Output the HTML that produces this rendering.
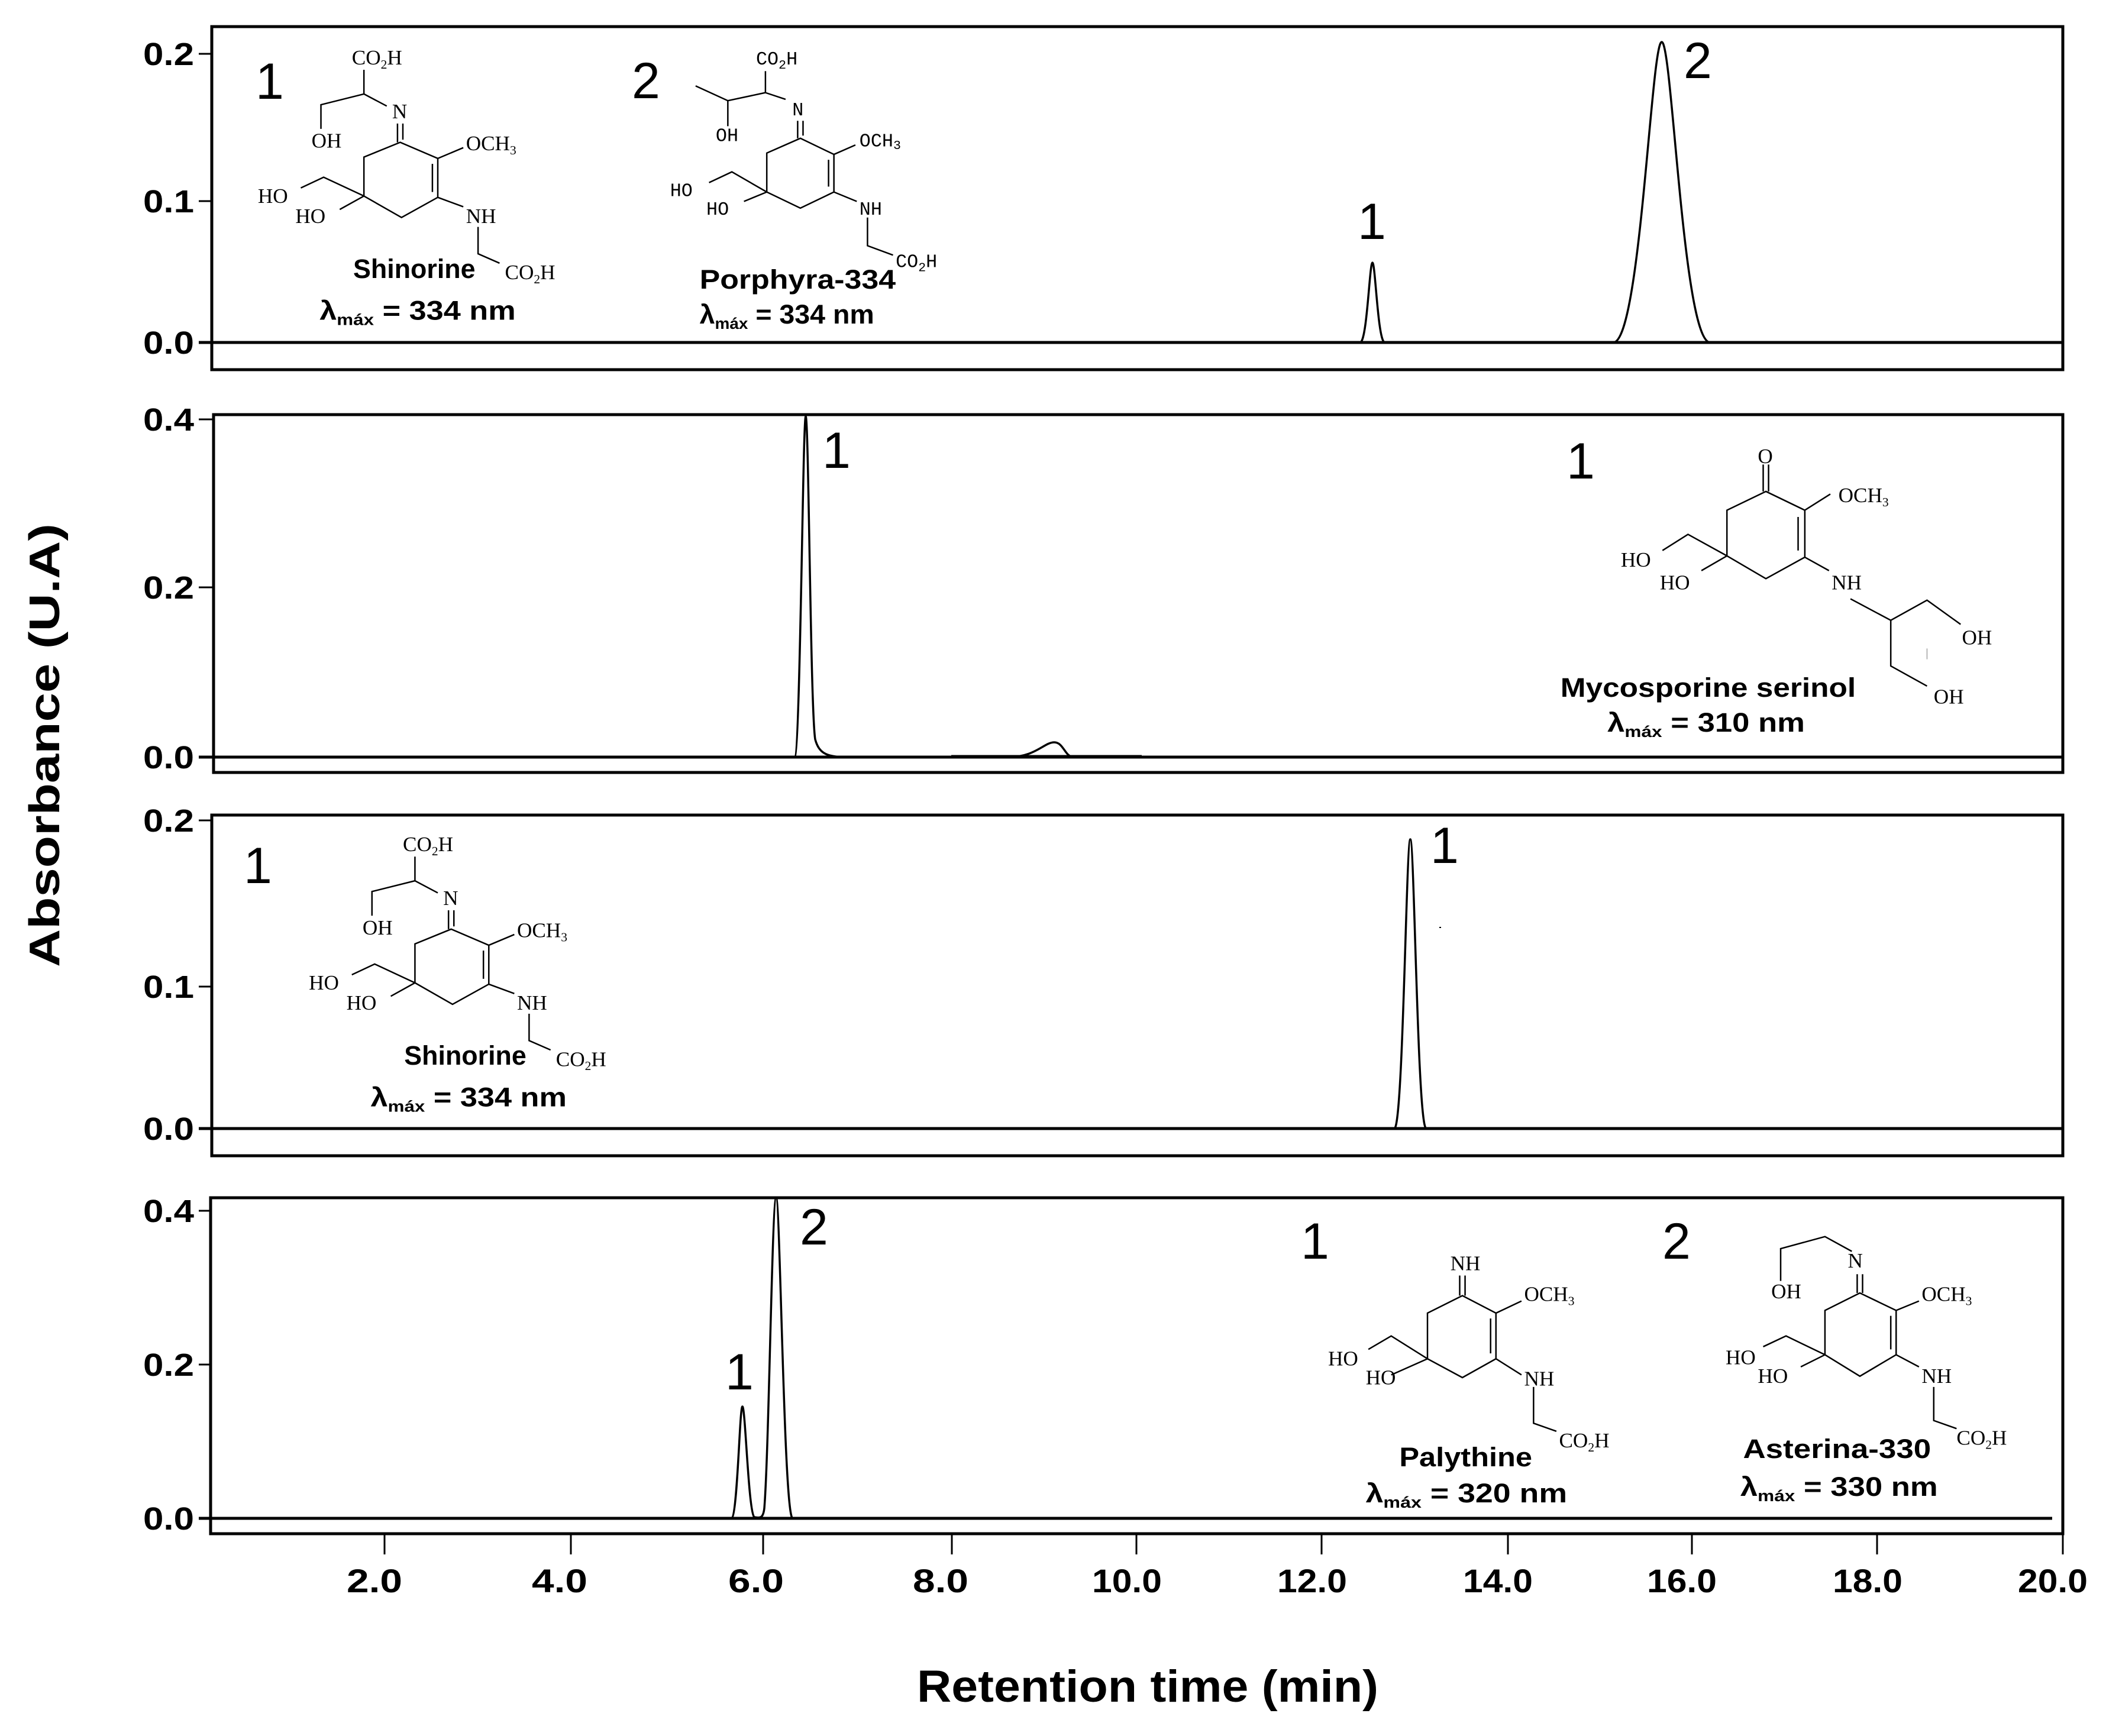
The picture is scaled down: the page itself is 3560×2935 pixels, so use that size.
<!DOCTYPE html>
<html><head><meta charset="utf-8"><style>
html,body{margin:0;padding:0;background:#fff;}
svg{display:block;}
.ax{font-family:"Liberation Sans",sans-serif;font-weight:bold;font-size:54px;}
.big{font-family:"Liberation Sans",sans-serif;font-size:86px;}
.at{font-family:"Liberation Serif",serif;font-size:15.5px;}
.mo{font-family:"Liberation Mono",monospace;font-size:14px;}
.nm{font-family:"Liberation Sans",sans-serif;font-weight:bold;font-size:20px;}
.sb{font-size:9.5px;}
</style></head><body>
<svg width="3560" height="2935" viewBox="0 0 3560 2935" xmlns="http://www.w3.org/2000/svg">
<rect width="3560" height="2935" fill="#fff"/>
<g fill="none" stroke="#000" stroke-width="5">
<rect x="358" y="45" width="3129" height="580"/>
<rect x="361" y="701" width="3126" height="605"/>
<rect x="358" y="1378" width="3129" height="576"/>
<rect x="356" y="2025" width="3131" height="568"/>
</g>
<g stroke="#000" stroke-width="5">
<line x1="336" y1="579" x2="3487" y2="579"/>
<line x1="336" y1="1280" x2="3487" y2="1280"/>
<line x1="336" y1="1908" x2="3487" y2="1908"/>
<line x1="336" y1="2567" x2="3469" y2="2567"/>
</g>
<g stroke="#000" stroke-width="3">
<line x1="336" y1="91" x2="358" y2="91"/><line x1="336" y1="340" x2="358" y2="340"/>
<line x1="336" y1="709" x2="361" y2="709"/><line x1="336" y1="993" x2="361" y2="993"/>
<line x1="336" y1="1387" x2="358" y2="1387"/><line x1="336" y1="1668" x2="358" y2="1668"/>
<line x1="336" y1="2047" x2="356" y2="2047"/><line x1="336" y1="2307" x2="356" y2="2307"/>
</g>
<g class="ax" text-anchor="end">
<text x="328" y="110" textLength="86" lengthAdjust="spacingAndGlyphs">0.2</text>
<text x="328" y="359" textLength="86" lengthAdjust="spacingAndGlyphs">0.1</text>
<text x="328" y="598" textLength="86" lengthAdjust="spacingAndGlyphs">0.0</text>
<text x="328" y="728" textLength="86" lengthAdjust="spacingAndGlyphs">0.4</text>
<text x="328" y="1012" textLength="86" lengthAdjust="spacingAndGlyphs">0.2</text>
<text x="328" y="1299" textLength="86" lengthAdjust="spacingAndGlyphs">0.0</text>
<text x="328" y="1406" textLength="86" lengthAdjust="spacingAndGlyphs">0.2</text>
<text x="328" y="1687" textLength="86" lengthAdjust="spacingAndGlyphs">0.1</text>
<text x="328" y="1927" textLength="86" lengthAdjust="spacingAndGlyphs">0.0</text>
<text x="328" y="2066" textLength="86" lengthAdjust="spacingAndGlyphs">0.4</text>
<text x="328" y="2326" textLength="86" lengthAdjust="spacingAndGlyphs">0.2</text>
<text x="328" y="2586" textLength="86" lengthAdjust="spacingAndGlyphs">0.0</text>
</g>
<g stroke="#000" stroke-width="3">
<line x1="650" y1="2593" x2="650" y2="2628"/><line x1="965" y1="2593" x2="965" y2="2628"/>
<line x1="1290" y1="2593" x2="1290" y2="2628"/><line x1="1609" y1="2593" x2="1609" y2="2628"/>
<line x1="1921" y1="2593" x2="1921" y2="2628"/><line x1="2234" y1="2593" x2="2234" y2="2628"/>
<line x1="2549" y1="2593" x2="2549" y2="2628"/><line x1="2860" y1="2593" x2="2860" y2="2628"/>
<line x1="3173" y1="2593" x2="3173" y2="2628"/><line x1="3487" y1="2593" x2="3487" y2="2628"/>
</g>
<g class="ax" text-anchor="middle" style="font-size:56px">
<text x="633" y="2692" textLength="94" lengthAdjust="spacingAndGlyphs">2.0</text>
<text x="946" y="2692" textLength="94" lengthAdjust="spacingAndGlyphs">4.0</text>
<text x="1278" y="2692" textLength="94" lengthAdjust="spacingAndGlyphs">6.0</text>
<text x="1590" y="2692" textLength="94" lengthAdjust="spacingAndGlyphs">8.0</text>
<text x="1905" y="2692" textLength="118" lengthAdjust="spacingAndGlyphs">10.0</text>
<text x="2218" y="2692" textLength="118" lengthAdjust="spacingAndGlyphs">12.0</text>
<text x="2532" y="2692" textLength="118" lengthAdjust="spacingAndGlyphs">14.0</text>
<text x="2843" y="2692" textLength="118" lengthAdjust="spacingAndGlyphs">16.0</text>
<text x="3157" y="2692" textLength="118" lengthAdjust="spacingAndGlyphs">18.0</text>
<text x="3470" y="2692" textLength="118" lengthAdjust="spacingAndGlyphs">20.0</text>
</g>
<text x="1940" y="2877" text-anchor="middle" font-family="Liberation Sans, sans-serif" font-weight="bold" font-size="76" textLength="780" lengthAdjust="spacingAndGlyphs">Retention time (min)</text>
<text transform="translate(100,1260) rotate(-90)" text-anchor="middle" font-family="Liberation Sans, sans-serif" font-weight="bold" font-size="72" textLength="750" lengthAdjust="spacingAndGlyphs">Absorbance (U.A)</text>

<g fill="none" stroke="#000" stroke-width="3.5">
<path d="M2299,579 C2311,579 2315,444 2320,444 C2325,444 2329,579 2341,579"/>
<path d="M2727,579 C2773,579 2791,71 2809,71 C2827,71 2845,579 2891,579"/>
<path d="M1343,1280 C1353,1280 1357,704 1362,704 C1367,704 1370,1200 1378,1250 C1385,1276 1400,1280 1435,1280"/>
<path d="M1705,1280 C1750,1280 1765,1255 1782,1255 C1798,1255 1800,1280 1815,1280"/>
<path d="M2357,1908 C2372,1908 2377,1419 2384,1419 C2391,1419 2396,1908 2411,1908"/>
<path d="M1236,2567 C1247,2567 1250,2378 1255,2378 C1260,2378 1265,2555 1275,2565 C1285,2567 1290,2567 1292,2550 C1300,2450 1305,2025 1312,2025 C1319,2025 1325,2567 1340,2567 L1365,2567"/>
</g>
<line x1="1608" y1="1278" x2="1930" y2="1278" stroke="#000" stroke-width="3"/>

<g class="big">
<text x="432" y="167">1</text>
<text x="1068" y="166">2</text>
<text x="2295" y="404">1</text>
<text x="2846" y="132">2</text>
<text x="1390" y="791">1</text>
<text x="2648" y="809">1</text>
<text x="412" y="1493">1</text>
<text x="2418" y="1459">1</text>
<text x="1352" y="2104">2</text>
<text x="1226" y="2349">1</text>
<text x="2199" y="2128">1</text>
<text x="2810" y="2128">2</text>
</g>
<line x1="2433" y1="1568" x2="2436" y2="1568" stroke="#000" stroke-width="2"/>

<g transform="scale(2.27)">
<g fill="none" stroke="#000" stroke-width="1.1">
<path d="M298,106 L271,117 L271,146 L299,162 L326,147 L326,118 Z M322,122 L322,143 M296,92 L296,106 M300,92 L300,104 M288,79 L271,70 L271,52 M271,70 L239,78 L239,96 M326,118 L345,110 M326,147 L345,154 M356,169 L356,189 L372,196 M271,146 L241,132 L224,140 M271,146 L253,156"/>
<path transform="translate(38,586)" d="M298,106 L271,117 L271,146 L299,162 L326,147 L326,118 Z M322,122 L322,143 M296,92 L296,106 M300,92 L300,104 M288,79 L271,70 L271,52 M271,70 L239,78 L239,96 M326,118 L345,110 M326,147 L345,154 M356,169 L356,189 L372,196 M271,146 L241,132 L224,140 M271,146 L253,156"/>
<path d="M596,103 L571,114 L571,143 L596,155 L621,143 L621,115 Z M617,119 L617,139 M594,90 L594,103 M598,90 L598,101 M585,74 L570,69 L570,53 M570,69 L542,75 L518,64 M542,75 L542,94 M621,115 L637,108 M571,143 L545,128 L528,136 M571,143 L554,150 M621,143 L638,150 M646,162 L646,183 L665,190"/>
<path d="M1315,366 L1286,380 L1286,414 L1315,431 L1344,415 L1344,380 Z M1339,385 L1339,410 M1313,346 L1313,366 M1317,346 L1317,366 M1344,380 L1363,368 M1286,414 L1257,398 L1238,410 M1286,414 L1267,425 M1344,415 L1362,425 M1378,446 L1408,462 L1435,447 L1460,465 M1408,462 L1408,496 L1435,511"/>
<path d="M1089,965 L1063,978 L1063,1012 L1089,1026 L1114,1012 L1114,978 Z M1110,982 L1110,1008 M1087,950 L1087,965 M1091,950 L1091,965 M1114,978 L1133,969 M1063,1012 L1036,995 L1019,1005 M1063,1012 L1036,1024 M1114,1012 L1133,1024 M1142,1033 L1142,1060 L1159,1066"/>
<path d="M1385,963 L1359,976 L1359,1009 L1385,1025 L1412,1009 L1412,976 Z M1408,980 L1408,1005 M1383,949 L1383,963 M1387,949 L1387,963 M1379,932 L1359,921 L1326,930 L1326,954 M1412,976 L1429,969 M1359,1009 L1330,995 L1313,1003 M1359,1009 L1341,1018 M1412,1009 L1429,1018 M1440,1033 L1440,1058 L1457,1064"/>
</g>
<line x1="1435" y1="483" x2="1435" y2="491" stroke="#999" stroke-width="0.6"/>

<g class="at">
<text x="262" y="48">CO<tspan class="sb" dy="3">2</tspan><tspan dy="-3">H</tspan></text>
<text x="292" y="88">N</text>
<text x="232" y="110">OH</text>
<text x="347" y="112">OCH<tspan class="sb" dy="3">3</tspan></text>
<text x="347" y="166">NH</text>
<text x="376" y="208">CO<tspan class="sb" dy="3">2</tspan><tspan dy="-3">H</tspan></text>
<text x="192" y="151">HO</text>
<text x="220" y="166">HO</text>
</g>
<text class="nm" x="263" y="207" textLength="91" lengthAdjust="spacingAndGlyphs">Shinorine</text>
<text class="nm" x="238" y="238" textLength="146" lengthAdjust="spacingAndGlyphs">λ<tspan dy="4" style="font-size:12px">máx</tspan><tspan dy="-4"> = 334 nm</tspan></text>

<g transform="translate(38,586)">
<g class="at">
<text x="262" y="48">CO<tspan class="sb" dy="3">2</tspan><tspan dy="-3">H</tspan></text>
<text x="292" y="88">N</text>
<text x="232" y="110">OH</text>
<text x="347" y="112">OCH<tspan class="sb" dy="3">3</tspan></text>
<text x="347" y="166">NH</text>
<text x="376" y="208">CO<tspan class="sb" dy="3">2</tspan><tspan dy="-3">H</tspan></text>
<text x="192" y="151">HO</text>
<text x="220" y="166">HO</text>
</g>
<text class="nm" x="263" y="207" textLength="91" lengthAdjust="spacingAndGlyphs">Shinorine</text>
<text class="nm" x="238" y="238" textLength="146" lengthAdjust="spacingAndGlyphs">λ<tspan dy="4" style="font-size:12px">máx</tspan><tspan dy="-4"> = 334 nm</tspan></text>
</g>

<g class="mo">
<text x="563" y="48">CO<tspan class="sb" dy="3">2</tspan><tspan dy="-3">H</tspan></text>
<text x="590" y="86">N</text>
<text x="533" y="105">OH</text>
<text x="640" y="109">OCH<tspan class="sb" dy="2">3</tspan></text>
<text x="499" y="146">HO</text>
<text x="526" y="160">HO</text>
<text x="640" y="160">NH</text>
<text x="667" y="199">CO<tspan class="sb" dy="3">2</tspan><tspan dy="-3">H</tspan></text>
</g>
<text class="nm" x="521" y="215" textLength="146" lengthAdjust="spacingAndGlyphs">Porphyra-334</text>
<text class="nm" x="521" y="241" textLength="130" lengthAdjust="spacingAndGlyphs">λ<tspan dy="4" style="font-size:12px">máx</tspan><tspan dy="-4"> = 334 nm</tspan></text>

<g class="at">
<text x="1309" y="345">O</text>
<text x="1369" y="374">OCH<tspan class="sb" dy="3">3</tspan></text>
<text x="1207" y="422">HO</text>
<text x="1236" y="439">HO</text>
<text x="1364" y="439">NH</text>
<text x="1461" y="480">OH</text>
<text x="1440" y="524">OH</text>
</g>
<text class="nm" x="1162" y="519" textLength="220" lengthAdjust="spacingAndGlyphs">Mycosporine serinol</text>
<text class="nm" x="1197" y="545" textLength="147" lengthAdjust="spacingAndGlyphs">λ<tspan dy="4" style="font-size:12px">máx</tspan><tspan dy="-4"> = 310 nm</tspan></text>

<g class="at">
<text x="1080" y="946">NH</text>
<text x="1135" y="969">OCH<tspan class="sb" dy="3">3</tspan></text>
<text x="989" y="1017">HO</text>
<text x="1017" y="1031">HO</text>
<text x="1135" y="1032">NH</text>
<text x="1161" y="1078">CO<tspan class="sb" dy="3">2</tspan><tspan dy="-3">H</tspan></text>
</g>
<text class="nm" x="1042" y="1092" textLength="99" lengthAdjust="spacingAndGlyphs">Palythine</text>
<text class="nm" x="1017" y="1119" textLength="150" lengthAdjust="spacingAndGlyphs">λ<tspan dy="4" style="font-size:12px">máx</tspan><tspan dy="-4"> = 320 nm</tspan></text>

<g class="at">
<text x="1376" y="944">N</text>
<text x="1319" y="967">OH</text>
<text x="1431" y="969">OCH<tspan class="sb" dy="3">3</tspan></text>
<text x="1285" y="1016">HO</text>
<text x="1309" y="1030">HO</text>
<text x="1431" y="1030">NH</text>
<text x="1457" y="1076">CO<tspan class="sb" dy="3">2</tspan><tspan dy="-3">H</tspan></text>
</g>
<text class="nm" x="1298" y="1086" textLength="140" lengthAdjust="spacingAndGlyphs">Asterina-330</text>
<text class="nm" x="1296" y="1114" textLength="147" lengthAdjust="spacingAndGlyphs">λ<tspan dy="4" style="font-size:12px">máx</tspan><tspan dy="-4"> = 330 nm</tspan></text>
</g>
</svg>
</body></html>
